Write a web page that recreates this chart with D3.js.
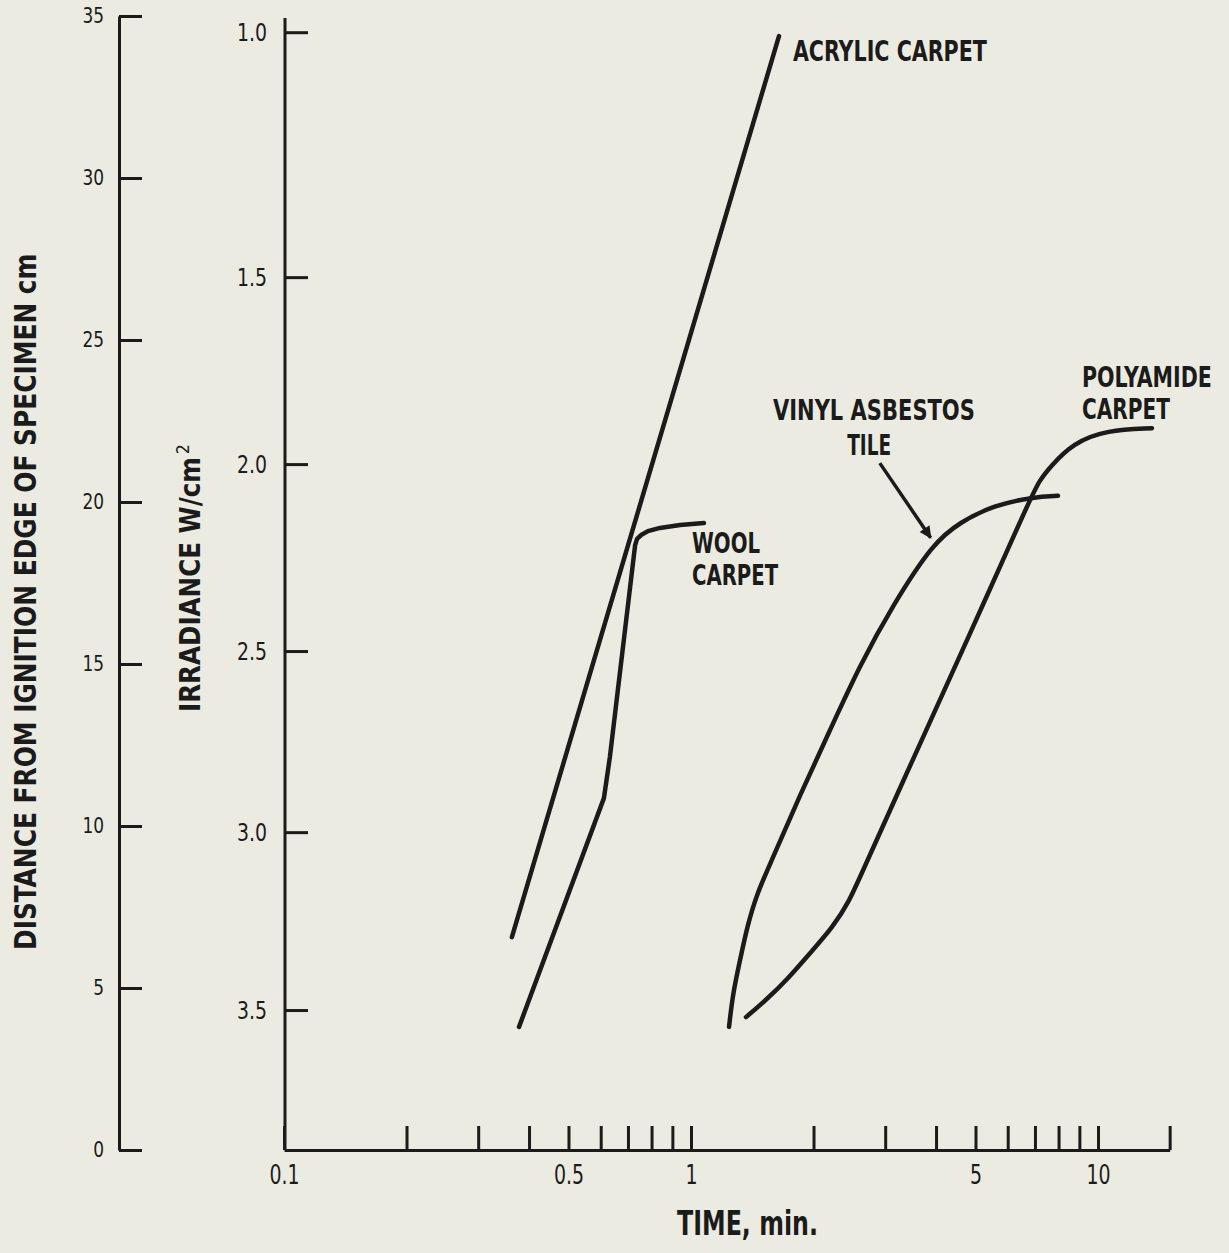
<!DOCTYPE html>
<html>
<head>
<meta charset="utf-8">
<script src="https://cdn.jsdelivr.net/npm/d3@7"></script>
<style>
body { margin: 0; background: #ecebe1; }
text { font-family: "Liberation Sans Narrow", "Arial Narrow", "DejaVu Sans Condensed", "DejaVu Sans", sans-serif; fill: #1b1b1b; }
</style>
</head>
<body>
<script>
// values: [time (min), distance from ignition edge (cm)]
const acrylic = [[0.363, 6.57], [1.645, 34.38]]
const wool = [[0.378, 3.80], [0.611, 10.86], [0.632, 12.13], [0.729, 18.67], [0.737, 18.86],
              [0.754, 18.98], [0.784, 19.10], [0.839, 19.20], [0.940, 19.29], [1.076, 19.35]]
const vinyl = [[1.240, 3.80], [1.268, 4.85], [1.320, 5.86], [1.373, 6.88], [1.453, 7.93], [1.581, 8.95],
               [1.853, 10.96], [2.196, 12.96], [2.602, 14.97], [3.135, 16.82], [3.932, 18.73],
               [4.582, 19.38], [5.583, 19.91], [6.923, 20.15], [7.974, 20.19]]
const polyamide = [[1.365, 4.10], [1.529, 4.63], [1.721, 5.25], [1.961, 6.08], [2.233, 6.88], [2.458, 7.72],
                   [2.602, 8.43], [3.531, 12.13], [4.529, 15.12], [5.188, 16.76], [6.844, 20.15],
                   [7.20, 20.68], [7.622, 21.08], [8.682, 21.82], [10.52, 22.22], [13.57, 22.28]]

const distTicks = [0, 5, 10, 15, 20, 25, 30, 35]
const irrTicks = [1.0, 1.5, 2.0, 2.5, 3.0, 3.5]
const irrDist = [34.5, 26.94, 21.17, 15.40, 9.81, 4.32]   // distance (cm) at each irradiance tick
const timeTicks = [0.1, 0.2, 0.3, 0.4, 0.5, 0.6, 0.7, 0.8, 0.9, 1, 2, 3, 4, 5, 6, 7, 8, 9, 10, 15]
const timeLabels = [0.1, 0.5, 1, 5, 10]

// squeeze text horizontally around its x anchor (the original type is a condensed face)
function squeeze(sel, k) {
	sel.each(function() {
		xx = +this.getAttribute('x') || 0
		d3.select(this).attr('transform', 'translate(' + xx * (1 - k) + ',0) scale(' + k + ',1)')
	})
}

function plot_it() {
	width = 1229
	height = 1253
	ink = '#1b1b1b'

	svg = d3.select('body').append('svg').attr('width', width).attr('height', height)
	svg.append('rect').attr('width', width).attr('height', height).attr('fill', '#ecebe1')

	x = d3.scaleLog().domain([0.1, 15]).range([284, 284 + 407 * Math.log10(150)])
	y = d3.scaleLinear().domain([0, 35]).range([1150, 16])
	yIrr = d3.scaleLinear().domain(irrTicks).range(irrDist.map(y))

//distance axis
	gd = svg.append('g').attr('transform', 'translate(119,0)')
		.call(d3.axisLeft(y).tickValues(distTicks).tickSizeInner(-23).tickSizeOuter(0).tickPadding(15))
	gd.selectAll('text').style('font-size', '21px')
	squeeze(gd.selectAll('text'), 0.9)

//irradiance axis
	gi = svg.append('g').attr('transform', 'translate(285,0)')
		.call(d3.axisLeft(yIrr).tickValues(irrTicks).tickFormat(d3.format('.1f')).tickSizeInner(-23).tickSizeOuter(0).tickPadding(18))
	gi.select('.domain').remove()
	gi.append('line').attr('x1', 0).attr('x2', 0).attr('y1', y(0)).attr('y2', y(35) + 2)
	gi.selectAll('text').style('font-size', '25px')
	squeeze(gi.selectAll('text'), 0.84)

//time axis
	gx = svg.append('g').attr('transform', 'translate(0,' + y(0) + ')')
		.call(d3.axisBottom(x).tickValues(timeTicks).tickFormat(d => timeLabels.includes(d) ? String(d) : '')
			.tickSizeInner(-24).tickSizeOuter(0).tickPadding(15))
	gx.selectAll('text').style('font-size', '27px')
	squeeze(gx.selectAll('text'), 0.78)

	svg.selectAll('.domain, .tick line, g > line').attr('stroke', ink).attr('stroke-width', 3)
	svg.selectAll('.tick text').attr('fill', ink).style('font-family', null)

//curves
	smooth = d3.line().x(d => x(d[0])).y(d => y(d[1])).curve(d3.curveBasis)
	straight = d3.line().x(d => x(d[0])).y(d => y(d[1]))
	curves = svg.append('g').attr('fill', 'none').attr('stroke', ink).attr('stroke-width', 4.5)
		.attr('stroke-linecap', 'round').attr('stroke-linejoin', 'round')
	curves.append('path').attr('d', straight(acrylic))
	curves.append('path').attr('d', straight(wool))
	curves.append('path').attr('d', smooth(vinyl))
	curves.append('path').attr('d', smooth(polyamide))

//arrow to the vinyl curve
	svg.append('defs').append('marker').attr('id', 'head').attr('viewBox', '0 0 10 10')
		.attr('refX', 9).attr('refY', 5).attr('markerWidth', 17).attr('markerHeight', 12)
		.attr('markerUnits', 'userSpaceOnUse').attr('orient', 'auto')
		.append('path').attr('d', 'M0,0L10,5L0,10Z').attr('fill', ink)
	svg.append('line').attr('x1', x(2.91)).attr('y1', y(21.2)).attr('x2', x(3.88)).attr('y2', y(18.9))
		.attr('stroke', ink).attr('stroke-width', 3.5).attr('marker-end', 'url(#head)')

//labels, stretched to the width they take in the figure
	fit = function(t, tx, ty, len, rot) {
		w = t.node().getComputedTextLength()
		t.attr('transform', 'translate(' + tx + ',' + ty + ') rotate(' + rot + ') scale(' + (len / w) + ',1)')
	}
	lab = function(txt, tx, dy, len, size) {
		t = svg.append('text').text(txt).style('font-size', size + 'px').style('font-weight', 'bold')
		fit(t, x(tx), y(dy), len, 0)
	}
	lab('ACRYLIC CARPET', 1.78, 33.61, 194, 29)
	lab('WOOL', 1.006, 18.43, 68, 28)
	lab('CARPET', 1.006, 17.44, 86, 28)
	lab('VINYL ASBESTOS', 1.59, 22.53, 202, 28)
	lab('TILE', 2.42, 21.45, 44, 28)
	lab('POLYAMIDE', 9.13, 23.55, 130, 28)
	lab('CARPET', 9.13, 22.56, 88, 28)

	tt = svg.append('text').text('TIME, min.').style('font-size', '34px').style('font-weight', 'bold')
	fit(tt, 677, 1235, 141, 0)

	td = svg.append('text').text('DISTANCE FROM IGNITION EDGE OF SPECIMEN cm')
		.style('font-size', '30px').style('font-weight', 'bold')
	fit(td, 36, 950, 697, -90)

	ti = svg.append('text').style('font-size', '28px').style('font-weight', 'bold')
	ti.append('tspan').text('IRRADIANCE W/cm')
	ti.append('tspan').text('2').attr('dx', 3).attr('dy', -11).style('font-size', '18px').style('font-weight', 'normal')
	fit(ti, 200, 712, 265, -90)
}

plot_it()
</script>
</body>
</html>
